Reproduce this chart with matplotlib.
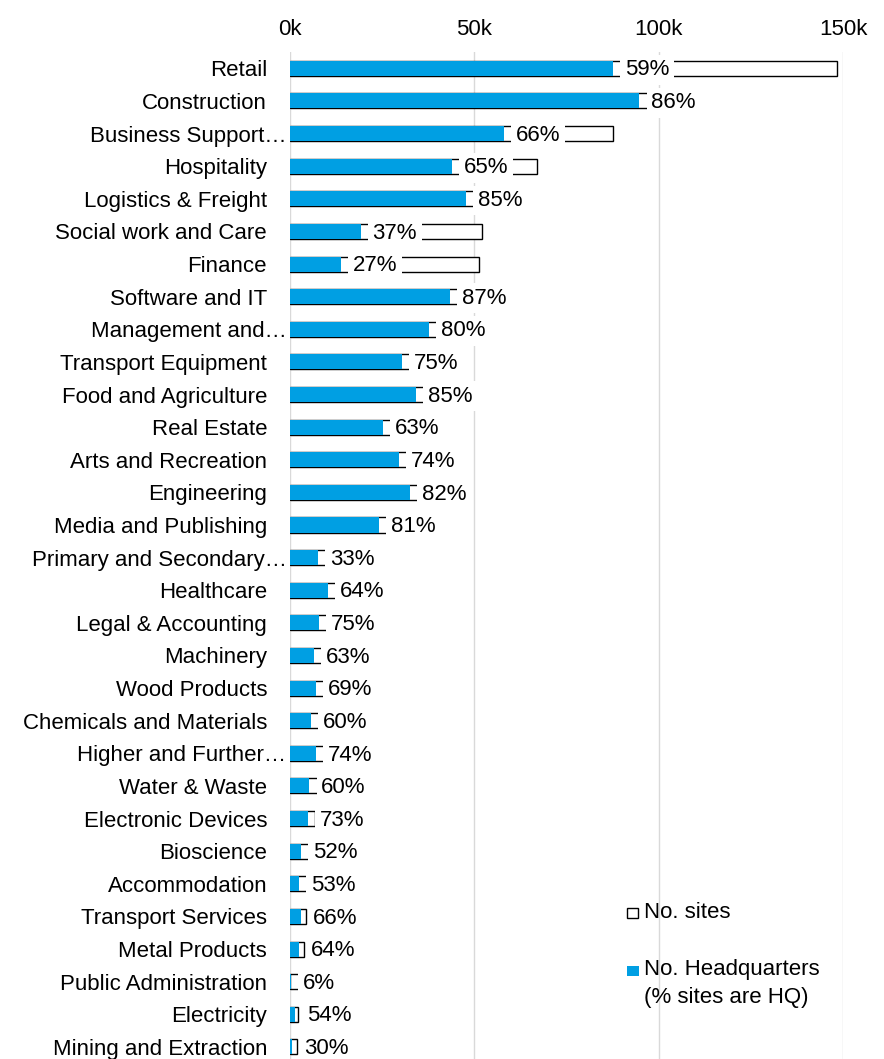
import numpy as np
import matplotlib.pyplot as plt
from matplotlib.patches import Rectangle
from matplotlib.transforms import ScaledTranslation

plt.rcParams['font.family'] = ['Liberation Sans', 'DejaVu Sans']

# Data (values in thousands)
categories = ['Retail', 'Construction', 'Business Support\u2026', 'Hospitality',
              'Logistics & Freight', 'Social work and Care', 'Finance', 'Software and IT',
              'Management and\u2026', 'Transport Equipment', 'Food and Agriculture',
              'Real Estate', 'Arts and Recreation', 'Engineering', 'Media and Publishing',
              'Primary and Secondary\u2026', 'Healthcare', 'Legal & Accounting', 'Machinery',
              'Wood Products', 'Chemicals and Materials', 'Higher and Further\u2026',
              'Water & Waste', 'Electronic Devices', 'Bioscience', 'Accommodation',
              'Transport Services', 'Metal Products', 'Public Administration',
              'Electricity', 'Mining and Extraction']
sites = [148.5, 110.2, 87.5, 67.0, 56.1, 52.0, 51.2, 49.9, 47.1, 40.5, 40.1,
         40.0, 39.9, 39.6, 29.8, 23.0, 16.1, 10.5, 10.3, 10.1, 9.5, 9.5,
         8.7, 6.7, 5.8, 4.5, 4.4, 3.8, 2.7, 2.3, 2.0]
hq = [87.6, 94.8, 58.0, 43.9, 47.7, 19.2, 13.8, 43.4, 37.7, 30.4, 34.1,
      25.2, 29.5, 32.5, 24.1, 7.6, 10.3, 7.9, 6.5, 7.0, 5.7, 7.0,
      5.2, 4.9, 3.0, 2.4, 2.9, 2.4, 0.16, 1.3, 0.6]
pct_hq = [59, 86, 66, 65, 85, 37, 27, 87, 80, 75, 85, 63, 74, 82, 81, 33, 64, 75,
          63, 69, 60, 74, 60, 73, 52, 53, 66, 64, 6, 54, 30]
xticks = [0, 50, 100, 150]
xtick_labels = ['0k', '50k', '100k', '150k']

blue = '#009FE3'
fs = 16

fig = plt.figure(figsize=(8.84, 10.59), dpi=100)
W, H = 884, 1059
ax = fig.add_axes([290 / W, 0, 553 / W, (H - 52) / H])

y = np.arange(len(categories))
ax.barh(y, sites, height=0.46, color='white', edgecolor='black', linewidth=1, zorder=2)
ax.barh(y, hq, height=0.46, color=blue, linewidth=0, zorder=3)

for yi, v, p in zip(y, hq, pct_hq):
    ax.annotate('%d%%' % p, xy=(v, yi), xytext=(8.5, -1.2), textcoords='offset points',
                ha='left', va='center', fontsize=fs, zorder=4,
                bbox=dict(boxstyle='square,pad=0.2', fc='white', ec='none'))

ax.set_xlim(0, 150)
ax.set_ylim(30.37, -0.5)
ax.set_xticks(xticks)
ax.set_xticklabels(xtick_labels, fontsize=fs)
ax.xaxis.tick_top()
ax.tick_params(axis='x', length=0, pad=8.5)
ax.set_yticks(y)
ax.set_yticklabels(categories, fontsize=fs)
ax.tick_params(axis='y', length=0, pad=16.5)
# truncated labels run closer to the axis
for lab in ax.get_yticklabels():
    if lab.get_text().endswith('\u2026'):
        lab.set_transform(lab.get_transform() + ScaledTranslation(14 / 72, 0, fig.dpi_scale_trans))

ax.grid(axis='x', color='#D9D9D9', linewidth=1, zorder=0)
ax.set_axisbelow(True)
for s in ax.spines.values():
    s.set_visible(False)

# legend
fig.add_artist(Rectangle((627 / W, 1 - 918 / H), 11 / W, 10 / H, transform=fig.transFigure,
                         fc='white', ec='black', lw=1))
fig.text(644 / W, 1 - 912 / H, 'No. sites', fontsize=fs, va='center', ha='left')
fig.add_artist(Rectangle((627 / W, 1 - 976 / H), 12 / W, 10 / H, transform=fig.transFigure,
                         fc=blue, ec='none'))
fig.text(644 / W, 1 - 970 / H, 'No. Headquarters', fontsize=fs, va='center', ha='left')
fig.text(644 / W, 1 - 997 / H, '(% sites are HQ)', fontsize=fs, va='center', ha='left')

fig.patch.set_facecolor('white')
fig.savefig('out.png', dpi=100)
